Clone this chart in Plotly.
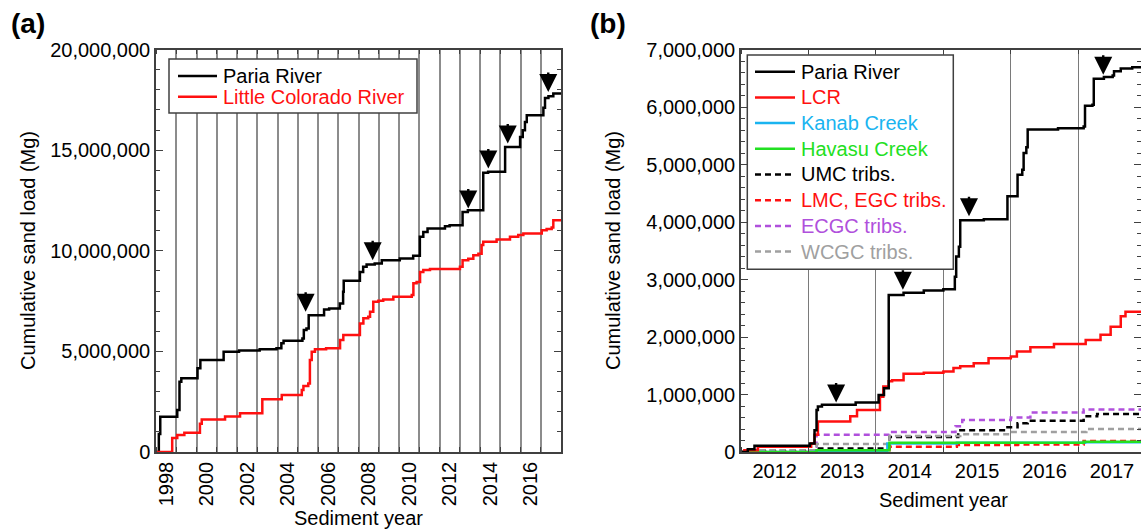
import plotly.graph_objects as go

W, H = 1141, 532
FONT = "Liberation Sans, Arial, Helvetica, sans-serif"
MG = 1e6  # loads below are in millions of Mg

# ---- Panel (a): 1998-2017 record -------------------------------------
paria_a_year = [1997.50, 1997.64, 1997.71, 1998.55, 1998.66, 1998.75, 1999.55, 1999.69,
                2000.84, 2001.60, 2002.62, 2003.45, 2003.69, 2003.80, 2004.73, 2004.80,
                2004.93, 2005.04, 2005.80, 2006.05, 2006.58, 2006.74, 2006.77, 2007.57,
                2007.73, 2007.90, 2008.30, 2008.65, 2009.54, 2010.20, 2010.53, 2010.70,
                2010.91, 2011.77, 2012.00, 2012.64, 2012.90, 2013.66, 2013.90, 2014.74,
                2015.48, 2015.61, 2015.72, 2015.81, 2016.63, 2016.71, 2016.88, 2017.12,
                2017.50]
paria_a_load = [0.00, 0.90, 1.75, 2.09, 3.49, 3.66, 4.16, 4.57,
                4.98, 5.04, 5.11, 5.15, 5.40, 5.53, 5.64, 6.06,
                6.14, 6.80, 7.08, 7.13, 7.38, 7.96, 8.51, 8.95,
                9.20, 9.32, 9.37, 9.53, 9.62, 9.75, 10.69, 10.93,
                11.11, 11.22, 11.27, 11.93, 12.01, 13.87, 13.92, 15.16,
                15.65, 15.99, 16.40, 16.73, 17.11, 17.59, 17.68, 17.81,
                17.81]

lcr_a_year = [1997.50, 1998.30, 1998.55, 1998.90, 1999.67, 1999.76, 2000.91, 2001.65,
              2002.75, 2003.71, 2004.70, 2004.78, 2005.02, 2005.10, 2005.19, 2005.35,
              2005.90, 2006.59, 2006.75, 2007.57, 2007.74, 2007.98, 2008.07, 2008.23,
              2008.48, 2008.72, 2009.22, 2010.13, 2010.21, 2010.37, 2010.54, 2010.70,
              2011.03, 2012.51, 2012.64, 2012.92, 2013.17, 2013.42, 2013.58, 2013.66,
              2014.32, 2014.98, 2015.39, 2015.64, 2016.55, 2016.79, 2017.04, 2017.12,
              2017.50]
lcr_a_load = [0.00, 0.70, 0.85, 0.96, 1.40, 1.62, 1.76, 1.92,
              2.62, 2.83, 3.08, 3.28, 3.40, 4.57, 4.98, 5.10,
              5.15, 5.56, 5.81, 6.39, 6.64, 6.72, 6.97, 7.46,
              7.52, 7.58, 7.71, 7.80, 8.38, 8.45, 8.95, 9.04,
              9.09, 9.20, 9.53, 9.60, 9.78, 9.85, 10.28, 10.45,
              10.56, 10.69, 10.78, 10.86, 11.02, 11.08, 11.15, 11.52,
              11.52]

arrow_a_year = [2004.89, 2008.20, 2012.92, 2013.91, 2014.87, 2016.87]
arrow_a_load = [6.97, 9.53, 12.10, 14.09, 15.33, 17.89]

# ---- Panel (b): 2012-2017 record, all gaged and ungaged tributaries ----
paria_b_year = [2011.50, 2011.60, 2011.70, 2012.52, 2012.59, 2012.62, 2012.64, 2012.70,
                2013.20, 2013.54, 2013.62, 2013.69, 2013.91, 2014.21, 2014.50, 2014.67,
                2014.69, 2014.73, 2014.75, 2015.10, 2015.45, 2015.60, 2015.67, 2015.69,
                2015.73, 2015.75, 2016.20, 2016.58, 2016.60, 2016.71, 2016.73, 2016.88,
                2017.01, 2017.03, 2017.13, 2017.30, 2017.50]
paria_b_load = [0.00, 0.05, 0.11, 0.15, 0.38, 0.73, 0.79, 0.82,
                0.86, 0.99, 1.11, 2.73, 2.77, 2.81, 2.83, 3.05,
                3.40, 3.57, 4.03, 4.05, 4.45, 4.82, 4.91, 5.20,
                5.30, 5.61, 5.63, 5.66, 6.02, 6.04, 6.49, 6.52,
                6.55, 6.62, 6.67, 6.69, 6.69]

lcr_b_year = [2011.50, 2011.55, 2011.75, 2012.54, 2012.59, 2012.64, 2013.12, 2013.22,
              2013.56, 2013.61, 2013.69, 2013.74, 2013.91, 2014.21, 2014.50, 2014.65,
              2014.75, 2014.95, 2015.17, 2015.50, 2015.59, 2015.79, 2016.14, 2016.61,
              2016.83, 2016.98, 2017.13, 2017.20, 2017.50]
lcr_b_load = [0.00, 0.03, 0.09, 0.15, 0.30, 0.53, 0.62, 0.73,
              0.96, 1.14, 1.23, 1.25, 1.36, 1.38, 1.40, 1.46,
              1.49, 1.545, 1.63, 1.66, 1.75, 1.82, 1.88, 1.95,
              2.04, 2.18, 2.36, 2.44, 2.44]

kanab_year = [2011.50, 2012.60, 2013.67, 2014.70, 2016.60, 2017.50]
kanab_load = [0.00, 0.01, 0.15, 0.16, 0.17, 0.17]

havasu_year = [2011.50, 2012.62, 2013.70, 2016.58, 2017.50]
havasu_load = [0.00, 0.03, 0.16, 0.18, 0.18]

umc_year = [2011.50, 2011.70, 2012.62, 2013.70, 2014.72, 2015.45, 2015.60, 2015.75,
            2016.58, 2016.78, 2017.50]
umc_load = [0.00, 0.02, 0.06, 0.26, 0.38, 0.43, 0.50, 0.545,
            0.62, 0.66, 0.66]

lmc_year = [2011.50, 2011.70, 2012.62, 2013.70, 2014.70, 2015.60, 2016.58, 2017.50]
lmc_load = [0.00, 0.01, 0.03, 0.09, 0.12, 0.13, 0.19, 0.19]

ecgc_year = [2011.50, 2011.60, 2011.75, 2012.62, 2013.70, 2014.68, 2014.78, 2015.50,
             2015.79, 2016.58, 2017.50]
ecgc_load = [0.00, 0.04, 0.09, 0.30, 0.35, 0.45, 0.557, 0.60,
             0.685, 0.74, 0.74]

wcgc_year = [2011.50, 2011.70, 2012.62, 2013.70, 2014.75, 2015.52, 2016.62, 2017.50]
wcgc_load = [0.00, 0.03, 0.14, 0.28, 0.31, 0.35, 0.40, 0.40]

arrow_b_year = [2012.91, 2013.90, 2014.88, 2016.87]
arrow_b_load = [0.86, 2.82, 4.10, 6.56]

a_ticks = list(range(1998, 2017, 2))
b_ticks = list(range(2012, 2018))

BLACK, RED = "#000000", "#ff1010"
CYAN, GREEN = "#1ab4f0", "#22e022"
PURPLE, GRAY = "#b050dc", "#a0a0a0"
DASH = "6px,4px"

series_a = [
    ("Paria River", paria_a_year, paria_a_load, BLACK, "solid"),
    ("Little Colorado River", lcr_a_year, lcr_a_load, RED, "solid"),
]
series_b = [
    ("Paria River", paria_b_year, paria_b_load, BLACK, "solid"),
    ("LCR", lcr_b_year, lcr_b_load, RED, "solid"),
    ("Kanab Creek", kanab_year, kanab_load, CYAN, "solid"),
    ("Havasu Creek", havasu_year, havasu_load, GREEN, "solid"),
    ("UMC tribs.", umc_year, umc_load, BLACK, DASH),
    ("LMC, EGC tribs.", lmc_year, lmc_load, RED, DASH),
    ("ECGC tribs.", ecgc_year, ecgc_load, PURPLE, DASH),
    ("WCGC tribs.", wcgc_year, wcgc_load, GRAY, DASH),
]


def px_x(p):
    return p / W


def px_y(p):
    return 1 - p / H


fig = go.Figure()

for name, xs, ys, color, dash in series_a:
    fig.add_trace(go.Scatter(
        x=xs, y=[v * MG for v in ys], name=name, mode="lines",
        line=dict(shape="hv", color=color, width=2.5, dash=dash),
        xaxis="x", yaxis="y", showlegend=False, hoverinfo="skip"))

# draw solid lines on top of the dashed ones in panel (b)
order_b = [4, 5, 6, 7, 2, 3, 1, 0]
for i in order_b:
    name, xs, ys, color, dash = series_b[i]
    fig.add_trace(go.Scatter(
        x=xs, y=[v * MG for v in ys], name=name, mode="lines",
        line=dict(shape="hv", color=color, width=2.5, dash=dash),
        xaxis="x2", yaxis="y2", showlegend=False, hoverinfo="skip"))

AX_LINE = "#404040"
common_y = dict(showline=True, linecolor=AX_LINE, linewidth=1.5, mirror="ticks",
                ticks="inside", ticklen=7, tickwidth=1.3, tickcolor=AX_LINE,
                tickformat=",d", showgrid=False, zeroline=False, automargin=False,
                tickfont=dict(family=FONT, size=20, color="black"))
common_x = dict(showline=True, linecolor=AX_LINE, linewidth=1.5, mirror="ticks",
                ticks="", showgrid=False, zeroline=False, automargin=False,
                tickfont=dict(family=FONT, size=20, color="black"))

Y0, Y1 = px_y(452), px_y(49.5)

fig.update_layout(
    width=W, height=H,
    margin=dict(l=0, r=0, t=0, b=0, pad=0, autoexpand=False),
    paper_bgcolor="white", plot_bgcolor="white",
    font=dict(family=FONT, size=20, color="black"),
    xaxis=dict(common_x, domain=[px_x(156), px_x(561)], range=[1997.5, 2017.5],
               tickmode="array", tickvals=a_ticks, ticktext=[str(t) for t in a_ticks],
               tickangle=-90, anchor="y",
               minor=dict(tick0=1998.5, dtick=1, showgrid=True, gridcolor="#8c8c8c",
                          gridwidth=1.5, ticks="inside", ticklen=5, tickcolor=AX_LINE)),
    yaxis=dict(common_y, domain=[Y0, Y1], range=[0, 20 * MG], dtick=5 * MG, anchor="x",
               minor=dict(dtick=1 * MG, ticks="inside", ticklen=4, tickcolor=AX_LINE,
                          showgrid=False)),
    xaxis2=dict(common_x, domain=[px_x(741), 1.0], range=[2011.5, 2017.43],
                tickmode="array", tickvals=b_ticks, ticktext=[str(t) for t in b_ticks],
                tickangle=0, anchor="y2",
                minor=dict(tick0=2011.5, dtick=1, showgrid=True, gridcolor="#7a7a7a",
                           gridwidth=1, ticks="inside", ticklen=5, tickcolor=AX_LINE)),
    yaxis2=dict(common_y, domain=[Y0, Y1], range=[0, 7 * MG], dtick=1 * MG, anchor="x2",
                minor=dict(dtick=0.2 * MG, ticks="inside", ticklen=4, tickcolor=AX_LINE,
                           showgrid=False)),
)

annotations = []
shapes = []

# event arrows above the Paria River record
for xr, yr, years, loads in (("x", "y", arrow_a_year, arrow_a_load),
                             ("x2", "y2", arrow_b_year, arrow_b_load)):
    for xv, yv in zip(years, loads):
        annotations.append(dict(
            x=xv, y=yv * MG, xref=xr, yref=yr, text="", showarrow=True,
            arrowhead=2, arrowsize=1.5, arrowwidth=2.4, arrowcolor="black",
            ax=0, ay=-21, standoff=0))

# panel letters
annotations.append(dict(text="<b>(a)</b>", x=px_x(9), y=px_y(23), xref="paper", yref="paper",
                        xanchor="left", yanchor="middle", showarrow=False,
                        font=dict(family=FONT, size=28, color="black")))
annotations.append(dict(text="<b>(b)</b>", x=px_x(588), y=px_y(23), xref="paper", yref="paper",
                        xanchor="left", yanchor="middle", showarrow=False,
                        font=dict(family=FONT, size=28, color="black")))

# axis titles
for cx in (358.5, 943):
    annotations.append(dict(text="Sediment year", x=px_x(cx), y=px_y(518 if cx < 600 else 500),
                            xref="paper", yref="paper", xanchor="center", yanchor="middle",
                            showarrow=False, font=dict(family=FONT, size=20, color="black")))
for cx in (28, 613):
    annotations.append(dict(text="Cumulative sand load (Mg)", x=px_x(cx), y=px_y(251),
                            xref="paper", yref="paper", xanchor="center", yanchor="middle",
                            textangle=-90, showarrow=False,
                            font=dict(family=FONT, size=20, color="black")))


def add_key(box, line_x, text_x, row0, step, entries):
    x0, y0, x1, y1 = box
    shapes.append(dict(type="rect", xref="paper", yref="paper",
                       x0=px_x(x0), x1=px_x(x1), y0=px_y(y1), y1=px_y(y0),
                       fillcolor="white", line=dict(color=AX_LINE, width=1.5), layer="above"))
    for k, (name, _, _, color, dash) in enumerate(entries):
        yy = row0 + k * step
        shapes.append(dict(type="line", xref="paper", yref="paper",
                           x0=px_x(line_x[0]), x1=px_x(line_x[1]), y0=px_y(yy), y1=px_y(yy),
                           line=dict(color=color, width=2.5, dash=dash), layer="above"))
        annotations.append(dict(text=name, x=px_x(text_x), y=px_y(yy), xref="paper",
                                yref="paper", xanchor="left", yanchor="middle",
                                showarrow=False,
                                font=dict(family=FONT, size=20, color=color)))


add_key((169, 59, 417, 113), (178, 217), 220.5, 76, 20.7, series_a)
add_key((747.3, 55, 953.3, 269.3), (755, 795), 799, 71.7, 25.7, series_b)

fig.update_layout(annotations=annotations, shapes=shapes)

fig.write_html("out.html")
